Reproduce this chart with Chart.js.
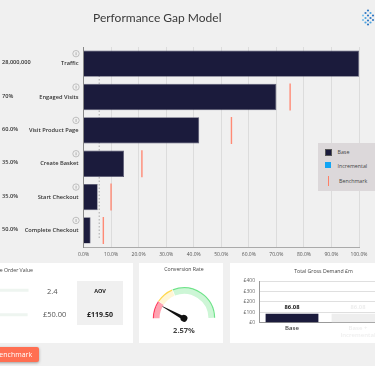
<!DOCTYPE html>
<html>
<head>
<meta charset="utf-8">
<title>Performance Gap Model</title>
<script src="https://cdn.jsdelivr.net/npm/chart.js@4"></script>
<style>
  html, body { margin: 0; padding: 0; }
  body { width: 375px; height: 366px; overflow: hidden; position: relative; background: #f0f0f0; font-family: "Open Sans", sans-serif; color: #333; }
  canvas { position: absolute; display: block; }
  .abs { position: absolute; white-space: nowrap; }
  .card { position: absolute; top: 263px; height: 80px; background: #fff; overflow: hidden; }
  #title { left: 93px; top: 8px; font-family: Lato, sans-serif; font-size: 12px; line-height: 20px; color: #3a3a3a; }
  #legend { left: 318px; top: 143px; width: 57px; height: 48px; background: #dcd8da; font-size: 5.3px; color: #444; }
  #legend i { position: absolute; display: block; }
</style>
</head>
<body>
<canvas id="gap-chart" width="375" height="262" style="left:0;top:0"></canvas>
<div class="abs" id="title">Performance Gap Model</div>

<svg class="abs" style="left:361px;top:9px" width="14" height="17" id="logo"></svg>

<div class="abs" id="legend">
  <i style="left:6.5px;top:6px;width:5px;height:5px;background:#1b1b3c;border:.5px solid #555"></i>
  <span class="abs" style="left:19.5px;top:5px">Base</span>
  <i style="left:6.5px;top:19px;width:6px;height:6px;background:#12a5f4"></i>
  <span class="abs" style="left:19.5px;top:19px">Incremental</span>
  <i style="left:10px;top:33px;width:1px;height:10px;background:#ff7f66"></i>
  <span class="abs" style="left:21px;top:34px">Benchmark</span>
</div>

<div class="card" style="left:0;width:133px">
  <canvas id="aov-chart" width="90" height="80" style="left:-60px;top:0"></canvas>
  <div class="abs" style="right:100px;top:3px;font-size:5.2px;color:#444">Average Order Value</div>
  <div class="abs" style="left:47px;top:23px;font-size:7.5px;color:#555">2.4</div>
  <div class="abs" style="left:43px;top:46px;font-size:7.5px;color:#555">£50.00</div>
  <div class="abs" style="left:77px;top:18px;width:46px;height:44px;background:#f0f0f0"></div>
  <div class="abs" style="left:77px;width:46px;text-align:center;top:24px;font-size:5.5px;font-weight:700;color:#222">AOV</div>
  <div class="abs" style="left:77px;width:46px;text-align:center;top:47px;font-size:7px;font-weight:700;color:#222">£119.50</div>
</div>

<div class="card" style="left:139px;width:84px">
  <canvas id="gauge-chart" width="84" height="80" style="left:0;top:0"></canvas>
  <div class="abs" style="left:0;width:90px;text-align:center;top:2px;font-size:5.2px;color:#444">Conversion Rate</div>
  <div class="abs" style="left:0;width:90px;text-align:center;top:62px;font-size:7.5px;font-weight:700;color:#444">2.57%</div>
</div>

<div class="card" style="left:229.5px;width:145.5px">
  <canvas id="demand-chart" width="180" height="80" style="left:0;top:0"></canvas>
  <div class="abs" style="left:44px;width:100px;text-align:center;top:4px;font-size:5.2px;color:#444">Total Gross Demand £m</div>
</div>

<div class="abs" style="left:-12px;top:347px;width:51px;height:15px;background:#ff6f52;border-radius:2px;box-shadow:0 1px 3px rgba(0,0,0,.35);color:#fff;font-size:7px;line-height:15px;text-align:center">Benchmark</div>

<script>
// main funnel
const stages = ['Traffic', 'Engaged Visits', 'Visit Product Page', 'Create Basket', 'Start Checkout', 'Complete Checkout'];
const stageMetrics = ['28,000,000', '70%', '60.0%', '35.0%', '35.0%', '50.0%'];
const baseValues = [100, 70, 42, 14.7, 5.15, 2.57];
const benchmarkValues = [null, 75, 53.7, 21.2, 10, 7.2];
const dottedLineValue = 5.7;
const axisTicks = [0, 10, 20, 30, 40, 50, 60, 70, 80, 90, 100];

// bottom cards
const aovBars = [98, 97];
const gaugeBands = [3, 3, 10];
const gaugeValue = 2.57;
const demandLabels = ['Base', ['Base +', 'Incremental']];
const demandValues = [86.08, 86.08];
const demandTicks = [0, 100, 200, 300, 400];

const font = "'Open Sans', sans-serif";
const navy = '#1b1b3c';

const stageNotes = {
  id: 'stageNotes',
  afterDraw(chart) {
    const c = chart.ctx;
    const y = chart.scales.y;
    c.save();
    stages.forEach((s, i) => {
      const py = y.getPixelForValue(i);
      c.fillStyle = '#333';
      c.font = '600 5.6px ' + font;
      c.textAlign = 'left';
      c.textBaseline = 'middle';
      c.fillText(stageMetrics[i], 2, py - 1);
      // info icon
      c.strokeStyle = '#aaa';
      c.lineWidth = 0.7;
      c.beginPath();
      c.arc(76, py - 10, 3.2, 0, Math.PI * 2);
      c.stroke();
      c.fillStyle = '#999';
      c.fillRect(75.7, py - 11.4, 0.7, 3);
    });
    c.restore();
  }
};

new Chart(document.getElementById('gap-chart'), {
  type: 'bar',
  data: {
    labels: stages,
    datasets: [
      {
        type: 'line',
        order: 3,
        data: [{ x: dottedLineValue, y: 0 }, { x: dottedLineValue, y: 1 }],
        yAxisID: 'yLine',
        borderColor: '#999',
        borderWidth: 0.8,
        borderDash: [1.5, 2],
        pointRadius: 0
      },
      {
        type: 'scatter',
        order: 1,
        data: stages.map((s, i) => ({ x: benchmarkValues[i], y: s })).filter(p => p.x !== null),
        pointStyle: 'line',
        pointRotation: 90,
        pointRadius: 13.5,
        pointBorderColor: '#ff8a75',
        pointBorderWidth: 1.4,
        pointBackgroundColor: '#ff8a75'
      },
      {
        type: 'bar',
        order: 2,
        data: baseValues,
        grouped: false,
        backgroundColor: navy,
        borderColor: '#55556f',
        borderWidth: 0.7,
        barPercentage: 0.79,
        categoryPercentage: 1
      }
    ]
  },
  options: {
    indexAxis: 'y',
    responsive: false,
    animation: false,
    layout: { padding: { top: 47, right: 16, left: 0, bottom: 0 } },
    plugins: { legend: { display: false }, tooltip: { enabled: false } },
    scales: {
      x: {
        type: 'linear',
        min: 0,
        max: 100,
        afterFit(s) { s.height = 14; },
        afterBuildTicks(s) { s.ticks = axisTicks.map(v => ({ value: v })); },
        grid: { color: '#dcdcdc', lineWidth: 1, drawTicks: false },
        border: { color: '#aaa', width: 1 },
        ticks: {
          callback: v => v.toFixed(1) + '%',
          font: { family: font, size: 5 },
          color: '#555',
          maxRotation: 0,
          padding: 4
        }
      },
      y: {
        type: 'category',
        afterFit(s) { s.width = 83.5; },
        grid: { display: false, drawTicks: false },
        border: { color: '#888', width: 1 },
        ticks: {
          font: { family: font, size: 5.7, weight: '600' },
          color: '#333',
          padding: 5
        }
      },
      yLine: { type: 'linear', display: false, min: 0, max: 1 }
    }
  },
  plugins: [stageNotes]
});

new Chart(document.getElementById('aov-chart'), {
  type: 'bar',
  data: {
    labels: ['a', 'b'],
    datasets: [{ data: aovBars, backgroundColor: '#eef5f0', barThickness: 2.5 }]
  },
  options: {
    indexAxis: 'y',
    responsive: false,
    animation: false,
    layout: { padding: { top: 15, bottom: 16 } },
    plugins: { legend: { display: false }, tooltip: { enabled: false } },
    scales: {
      x: { display: false, min: 0, max: 100 },
      y: { display: false }
    }
  }
});

const gaugeNeedle = {
  id: 'gaugeNeedle',
  afterDraw(chart) {
    const c = chart.ctx;
    const arc = chart.getDatasetMeta(0).data[0];
    const total = gaugeBands.reduce((a, b) => a + b, 0);
    const angle = Math.PI + (gaugeValue / total) * Math.PI;
    c.save();
    c.translate(arc.x, arc.y);
    c.rotate(angle);
    c.fillStyle = '#111';
    c.beginPath();
    c.moveTo(0, -1.8);
    c.lineTo(24.5, -0.2);
    c.lineTo(24.5, 0.2);
    c.lineTo(0, 1.8);
    c.closePath();
    c.fill();
    c.beginPath();
    c.arc(0, 0, 3.4, 0, Math.PI * 2);
    c.fill();
    c.restore();
  }
};

new Chart(document.getElementById('gauge-chart'), {
  type: 'doughnut',
  data: {
    datasets: [
      {
        data: gaugeBands,
        backgroundColor: ['#ff3d5e', '#ffd84d', '#6fe38a'],
        borderWidth: 0,
        spacing: 1,
        weight: 1
      },
      {
        data: gaugeBands,
        backgroundColor: ['#ffa3b1', '#fff6d6', '#cdf6d6'],
        borderWidth: 0,
        spacing: 1,
        weight: 4.5
      }
    ]
  },
  options: {
    responsive: false,
    animation: false,
    rotation: -90,
    circumference: 180,
    cutout: '78%',
    radius: 30.7,
    layout: { padding: { left: 6 } },
    plugins: { legend: { display: false }, tooltip: { enabled: false } }
  },
  plugins: [gaugeNeedle]
});

new Chart(document.getElementById('demand-chart'), {
  type: 'bar',
  data: {
    labels: demandLabels,
    datasets: [{
      data: demandValues,
      backgroundColor: [navy, '#eeeeee'],
      barPercentage: 0.8,
      categoryPercentage: 1
    }]
  },
  options: {
    responsive: false,
    animation: false,
    layout: { padding: { top: 18, bottom: 0, right: 19 } },
    plugins: { legend: { display: false }, tooltip: { enabled: false } },
    scales: {
      x: {
        afterFit(s) { s.height = 20.3; },
        grid: { display: false, drawTicks: false },
        border: { color: '#999', width: 1 },
        ticks: {
          font: { family: font, size: 6, weight: '600' },
          color: ctx => (ctx.index === 0 ? '#444' : '#eeeeee'),
          maxRotation: 0,
          padding: 2
        }
      },
      y: {
        min: 0,
        max: 400,
        afterFit(s) { s.width = 29; },
        afterBuildTicks(s) { s.ticks = demandTicks.map(v => ({ value: v })); },
        grid: { color: '#dfdfdf', lineWidth: 1, drawTicks: false },
        border: { color: '#999', width: 1 },
        ticks: {
          callback: v => '£' + v,
          font: { family: font, size: 5 },
          color: '#666',
          padding: 4
        }
      }
    }
  },
  plugins: [{
    id: 'barValues',
    afterDatasetsDraw(chart) {
      const c = chart.ctx;
      c.save();
      c.textAlign = 'center';
      c.textBaseline = 'bottom';
      c.font = '700 5.8px ' + font;
      chart.getDatasetMeta(0).data.forEach((bar, i) => {
        c.fillStyle = i === 0 ? '#222' : '#eeeeee';
        c.fillText(demandValues[i].toFixed(2), bar.x, bar.y - 3);
      });
      c.restore();
    }
  }]
});

// little dotted logo, top right
const logoDots = [[7, 1.5, '#2f78c4'], [4.5, 4, '#2f78c4'], [9.5, 4, '#4aa3df'], [2, 6.5, '#7cc0ea'], [7, 6.5, '#2f78c4'], [12, 6.5, '#2f78c4'],
  [4.5, 9, '#4aa3df'], [9.5, 9, '#2f78c4'], [2, 11, '#7cc0ea'], [7, 11.5, '#2f78c4'], [12, 11, '#2f78c4'], [4.5, 13.5, '#4aa3df'], [9.5, 13.5, '#4aa3df'], [7, 15.5, '#2f78c4']];
document.getElementById('logo').innerHTML = logoDots
  .map(d => `<circle cx="${d[0]}" cy="${d[1]}" r="1.1" fill="${d[2]}"/>`).join('');
</script>
</body>
</html>
